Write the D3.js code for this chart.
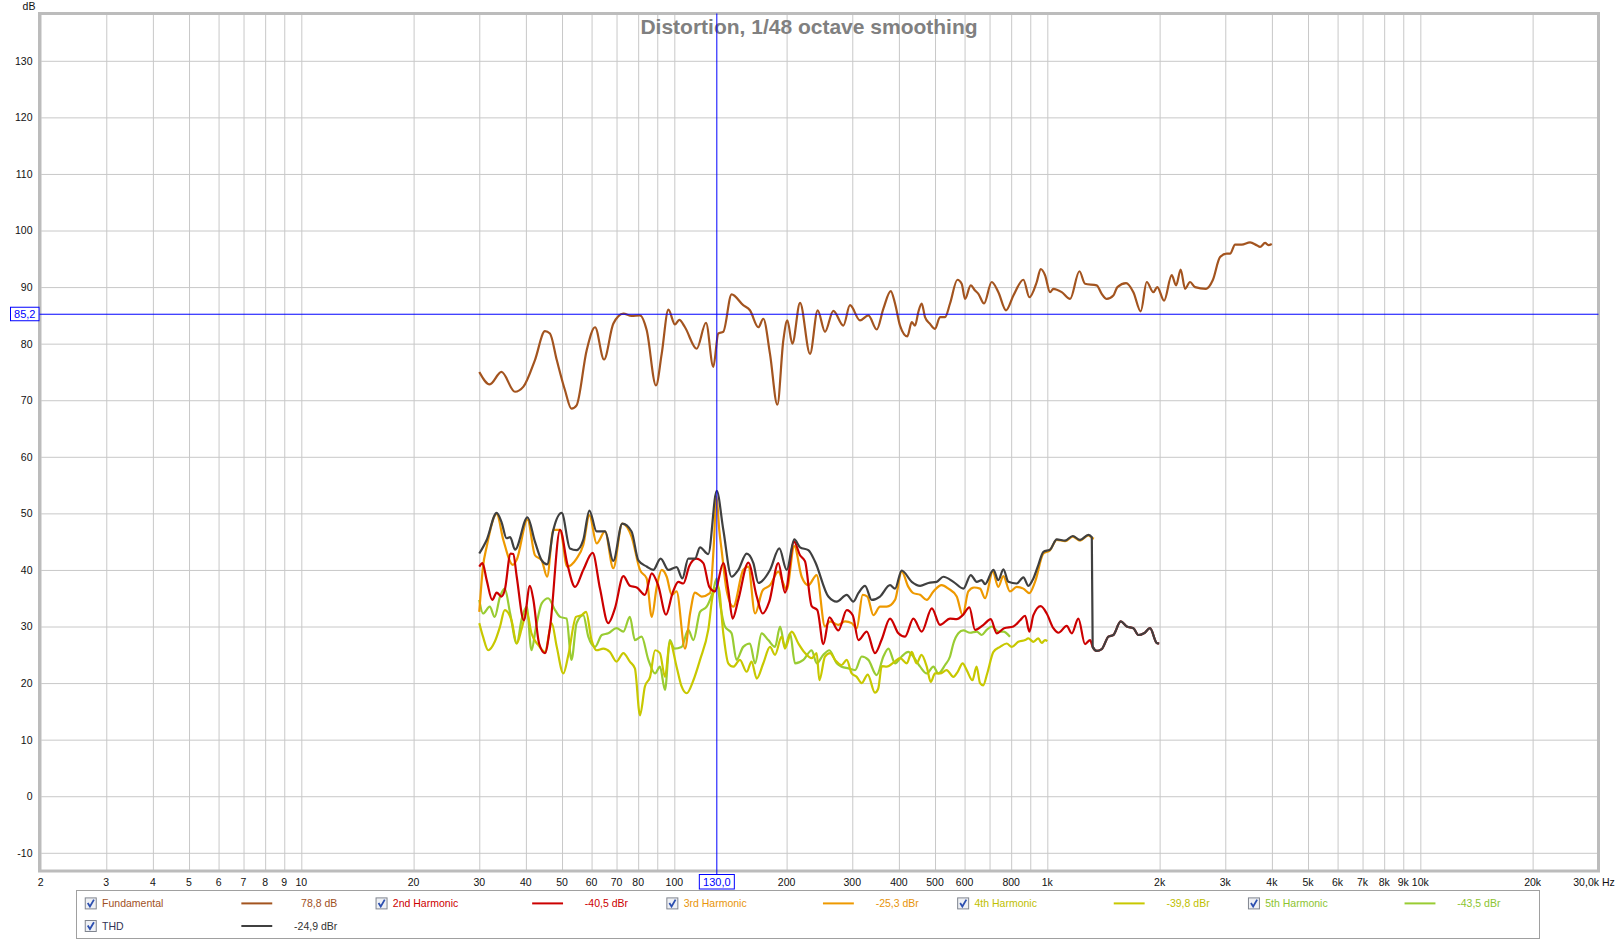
<!DOCTYPE html>
<html><head><meta charset="utf-8">
<script src="https://cdn.jsdelivr.net/npm/d3@7"></script>
<style>body{margin:0;background:#fff;} svg{display:block;font-family:"Liberation Sans",Arial,sans-serif;}</style>
</head><body><svg id="c" width="1617" height="941"></svg>
<script>
// ---------- DATA ([Hz, dB]) ----------
const fundamental = [[30,75.0],[32.0,72.8],[34.4,75.0],[37.4,71.5],[39.4,72.4],[42.3,77.1],[45.0,82.2],[46.4,81.8],[48.4,77.1],[50.9,71.8],[53.0,68.5],[54.7,69.1],[58.2,78.8],[61.3,82.9],[64.8,77.2],[68.6,83.5],[73.0,85.3],[76.8,84.9],[80.9,85.0],[84.3,82.4],[89.3,72.6],[92.5,78.2],[96.4,86.0],[100.4,83.4],[103.1,84.2],[106.8,82.9],[114.8,79.1],[121.6,83.7],[127.2,75.9],[131.2,81.8],[135.3,82.1],[142.4,88.7],[153.0,86.8],[159.5,85.9],[168.0,82.9],[173.2,84.4],[180.5,78.2],[188.9,69.2],[196.0,80.6],[200.9,84.1],[207.2,80.0],[217.3,87.2],[231.1,78.2],[242.3,85.9],[253.5,82.1],[266.9,85.8],[283.9,83.2],[295.8,86.8],[314.7,84.1],[331.3,85.0],[348.8,82.5],[363.5,86.2],[380.4,89.3],[390.6,87.1],[402.8,83.2],[421.4,81.3],[433,83.8],[442,83.2],[451,85.6],[460.5,87.1],[470,84.7],[484.7,83.5],[500,82.6],[515.6,84.7],[531.8,84.7],[548.5,87.1],[574,91.3],[589.4,90.6],[601.7,87.9],[623.2,90.3],[640.1,89.4],[653.4,88.8],[676.6,87.1],[709.4,90.9],[739.2,89.1],[775,85.9],[811,88.5],[862.7,91.3],[895.3,88.2],[936.8,90.9],[960.1,93.2],[986.1,92.1],[1017,89.1],[1038,89.7],[1093,89.1],[1151,87.9],[1219,92.8],[1262,90.6],[1356,90.3],[1399,88.8],[1443,87.9],[1503,88.5],[1541,90.0],[1626,90.7],[1701,89.1],[1780,85.7],[1847,90.9],[1924,89.1],[1972,90.0],[2056,87.6],[2155,92.1],[2214,90.3],[2278,93.1],[2340,89.7],[2413,90.9],[2489,90.0],[2664,89.7],[2776,91.2],[2905,95.3],[3027,95.9],[3090,95.9],[3187,97.5],[3320,97.5],[3496,97.9],[3642,97.4],[3718,97.1],[3835,97.8],[3915,97.4],[3997,97.6]];

const harmonic2 = [[30,40.6],[30.6,41.2],[31.4,38.2],[32.5,34.7],[33.4,36.0],[34.4,35.3],[35.1,36.4],[36.4,42.9],[37.0,42.8],[37.8,38.8],[39.5,31.1],[41.0,37.2],[41.9,34.7],[43.4,27.0],[45.0,25.3],[46.4,29.7],[49.4,47.1],[51.6,41.2],[54.2,37.0],[57.0,40.0],[60.4,43.0],[63.2,36.7],[66.5,30.6],[69.3,33.2],[73.0,38.9],[76.0,37.2],[79.3,36.9],[83.4,35.6],[87.0,39.4],[90.6,37.2],[95.0,32.1],[98.9,35.9],[102.5,37.9],[105.7,37.6],[109.7,40.7],[114.3,42.0],[119.6,41.2],[124.1,37.0],[128.5,36.2],[135.3,41.2],[139.5,36.5],[143.3,31.4],[148.4,34.7],[157.9,41.3],[166.3,35.3],[172.5,32.3],[179.7,34.4],[190.0,41.2],[198.1,36.0],[209.4,45.0],[217.3,42.6],[224.1,41.5],[233.5,33.6],[241.8,32.9],[250.9,26.9],[260.4,31.6],[275.4,29.3],[289.9,32.9],[300.8,32.0],[311.5,27.6],[328,29.1],[345.1,25.3],[359.7,27.7],[378.7,31.4],[398.7,28.8],[415.4,28.2],[437.4,31.4],[460.5,29.1],[490.1,33.2],[515.6,30.3],[548.5,31.4],[571.6,31.3],[593.2,32.0],[618.1,33.4],[640.1,29.4],[674.1,30.3],[705.2,31.3],[731.7,28.8],[765.6,29.7],[811,30.0],[845.2,31.1],[871.8,31.9],[895.3,29.1],[917.6,32.0],[960.1,33.6],[996.2,32.3],[1038,29.7],[1071,28.9],[1127,30.1],[1163,28.8],[1211,31.4],[1262,26.9],[1302,27.6],[1323,26.4],[1357,25.7],[1399,26.0],[1458,28.2],[1503,28.5],[1573,30.9],[1633,30.0],[1701,29.7],[1754,28.5],[1816,28.8],[1885,29.7],[1965,27.1],[1995,27.0]];

const harmonic3 = [[30,32.6],[30.7,40.6],[31.4,44.1],[33.4,49.9],[34.8,45.3],[36.9,40.9],[37.8,41.8],[40.4,48.9],[42.3,42.6],[44.1,41.7],[45.6,38.8],[47.4,47.1],[49.4,47.1],[51.6,40.6],[54.7,42.0],[57.0,44.4],[59.2,49.7],[61.9,44.7],[65.2,46.8],[68.6,40.3],[72.5,48.2],[76.8,45.9],[80.9,40.0],[84.3,38.5],[87.0,31.7],[89.7,37.0],[92.5,40.0],[95.4,38.8],[98.4,35.6],[101.4,36.2],[106.8,26.1],[110.2,32.3],[113.6,36.0],[118.4,35.3],[124.6,35.9],[127.5,44.0],[129.7,53.0],[132,47.0],[133.9,43.5],[138.1,36.4],[143.9,33.5],[153.0,40.0],[157.9,40.6],[164.6,32.3],[172.5,36.4],[180.5,37.3],[190.0,39.7],[196.0,37.6],[200,36.5],[209.7,44.2],[219.5,38.8],[228.7,37.3],[240.7,39.1],[253.5,30.0],[261.5,30.9],[275.4,30.3],[286.9,30.9],[298.9,30.6],[308.3,29.7],[319.9,35.6],[329.3,35.3],[341.7,32.0],[356,33.5],[371,33.5],[390.6,34.7],[407,39.7],[424.1,37.0],[437.4,35.9],[456,35.6],[475,34.7],[495,36.2],[521,37.3],[543,36.7],[571.6,35.3],[593.2,32.0],[614,36.2],[636,36.9],[660,36.7],[680.8,35.0],[714,39.7],[739,37.0],[762,38.9],[794,36.2],[827.7,37.0],[862.7,36.7],[895,35.9],[927,37.9],[976,42.9],[1017,43.5],[1060,45.3],[1116,45.1],[1170,45.9],[1224,45.2],[1289,46.1],[1316,45.7],[1333,45.5]];

const harmonic4 = [[30,30.6],[30.7,28.2],[31.7,25.8],[33.0,27.3],[34.1,30.0],[35.1,32.9],[36.6,31.1],[37.8,27.0],[39.0,29.7],[40.2,32.6],[41.4,28.8],[43.2,26.7],[45.0,25.5],[46.9,30.6],[48.4,26.4],[50.4,21.7],[52.0,25.0],[54.5,31.7],[56.4,32.0],[58.0,32.6],[60.0,27.6],[61.9,25.8],[64.5,26.1],[67.2,25.5],[70.0,23.8],[73.0,25.3],[76.0,23.8],[78.4,22.6],[80.9,14.3],[83.4,19.4],[86.1,21.1],[88.8,25.8],[91.5,25.3],[94.4,21.1],[97.3,27.3],[101.4,22.9],[104.6,19.4],[107.9,18.2],[112.5,20.5],[117.2,24.1],[123.3,29.4],[127.2,35.9],[131.2,37.0],[135.3,28.8],[139.5,23.5],[143.9,22.9],[149.9,24.1],[156.3,22.0],[161.1,23.8],[166.3,20.8],[173.2,23.5],[180.5,26.4],[186.2,25.0],[194.0,28.2],[198,26.1],[206.4,29.1],[215.1,27.0],[224.1,25.3],[233.5,24.4],[240.8,25.3],[244.8,20.5],[253.5,24.7],[261.5,25.3],[269.7,24.1],[281,23.2],[289.9,24.1],[298.9,21.7],[308.3,21.1],[318,20.0],[330,21.5],[345,18.3],[352,19.0],[360,23.0],[371,22.9],[390,23.8],[403,24.4],[420,23.5],[433,25.5],[446,23.5],[460,25.0],[475,22.9],[487,20.2],[500,21.7],[516,21.7],[537,22.3],[560,21.1],[575,22.0],[593,23.5],[608,22.3],[630,20.5],[646,22.9],[660,20.0],[673,19.6],[690,21.7],[717,25.5],[747,26.4],[778,27.0],[803,26.4],[836,27.3],[872,27.6],[889,27.9],[918,27.3],[946,27.9],[966,27.1],[986,27.6],[1000,27.4]];

const harmonic5 = [[30,34.7],[30.7,32.3],[32.0,33.5],[33.0,31.7],[34.1,35.3],[35.1,36.7],[36.3,32.3],[37.8,27.0],[39.0,31.4],[40.2,33.5],[41.4,25.8],[42.6,30.0],[44.1,34.1],[45.9,35.0],[47.9,32.9],[49.4,31.7],[51.4,31.4],[53.0,24.1],[54.7,30.6],[57.0,32.0],[58.8,28.2],[61.3,26.4],[63.9,28.5],[66.5,28.8],[70.0,29.7],[73.0,29.1],[76.0,31.7],[78.4,27.6],[81.7,28.2],[85.2,24.1],[88.8,21.7],[91.5,22.9],[94.4,18.8],[97.3,27.6],[100,26.1],[104.6,26.4],[109.0,29.4],[112.5,27.6],[117.2,32.6],[122.1,33.5],[127.2,36.4],[129.9,38.5],[132.6,34.1],[136.7,30.0],[142.4,28.8],[146.8,24.1],[153.0,26.4],[159.5,27.0],[164.6,23.5],[171.4,28.8],[178.6,27.6],[186.2,26.4],[192.1,30.0],[198,26.4],[204.3,28.8],[210.7,23.5],[221.8,24.1],[233.5,25.8],[240.8,23.5],[250.9,25.0],[260.4,25.8],[272.5,23.5],[281,22.9],[292.9,22.6],[305.2,22.3],[318,24.7],[331.3,24.1],[348.8,21.4],[363.5,24.7],[375,26.1],[390.6,23.5],[407,24.7],[424,25.5],[437,24.7],[456,22.9],[475,21.7],[495,22.9],[510,21.7],[532,23.2],[548.5,24.7],[560,27.0],[577.5,28.8],[595.6,29.3],[620.6,28.9],[646.7,29.1],[667,28.5],[687.7,29.4],[709.6,30.0],[739,29.1],[762,29.1],[794,28.2]];

const thd = [[30,42.9],[31.4,45.3],[33.4,50.1],[34.4,48.5],[35.5,45.6],[36.3,45.8],[37.4,43.6],[40.4,49.3],[42.3,45.0],[44.1,41.7],[45.6,41.0],[47.4,47.1],[49.9,50.1],[52.5,43.8],[54.7,43.5],[57.0,45.3],[59.2,50.5],[61.9,46.8],[65.2,46.8],[68.6,41.6],[72.5,48.2],[76.8,46.8],[80.1,41.7],[84.3,40.6],[87.8,40.0],[91.9,42.0],[96.4,40.0],[101.4,40.5],[105.1,38.5],[109.0,42.0],[113.6,42.0],[117.2,44.0],[123.3,42.8],[129.9,54.0],[135.3,47.1],[142.4,38.8],[148.4,40.0],[156.3,42.9],[162.9,41.2],[168.0,37.7],[180.5,40.0],[191.2,43.8],[200.1,40.0],[209.7,45.4],[217.3,44.0],[228.7,43.5],[238.3,41.5],[258.8,35.3],[272.5,34.4],[289.9,35.6],[302,34.4],[311.5,35.9],[324.6,37.2],[338.2,34.7],[356,35.3],[378.7,37.3],[390.6,36.7],[407,39.9],[433,37.9],[456,37.2],[479.9,37.7],[505.2,37.9],[526.4,38.8],[560.1,37.9],[595.6,36.7],[623.2,39.1],[646.7,37.9],[667,38.2],[680.8,37.5],[716.8,40.0],[739.2,38.2],[762.4,40.1],[786.3,37.9],[827.7,37.6],[862.7,38.7],[889.7,37.2],[917.6,38.5],[946.3,40.9],[975.9,43.2],[1017,43.6],[1060,45.4],[1116,45.2],[1170,46.0],[1224,45.3],[1289,46.2],[1316,45.8],[1323,26.4],[1357,25.7],[1399,26.0],[1458,28.2],[1503,28.5],[1573,30.9],[1633,30.0],[1701,29.7],[1754,28.5],[1816,28.8],[1885,29.7],[1965,27.1],[1995,27.0]];

const xLabelValues = [2,3,4,5,6,7,8,9,10,20,30,40,50,60,70,80,100,200,300,400,500,600,800,1000,2000,3000,4000,5000,6000,7000,8000,9000,10000,20000];
const xLabelTexts  = ["2","3","4","5","6","7","8","9","10","20","30","40","50","60","70","80","100","200","300","400","500","600","800","1k","2k","3k","4k","5k","6k","7k","8k","9k","10k","20k"];
const yTickValues = [-10,0,10,20,30,40,50,60,70,80,90,100,110,120,130];

const legendNames  = ["Fundamental","2nd Harmonic","3rd Harmonic","4th Harmonic","5th Harmonic","THD"];
const legendValues = ["78,8 dB","-40,5 dBr","-25,3 dBr","-39,8 dBr","-43,5 dBr","-24,9 dBr"];
const cursorFreq = 130.0, cursorLevel = 85.2;

// ---------- STYLE ----------
const seriesColors = ["#a3541f","#cc0000","#ee9900","#c8c800","#99cc33","#404040"];
const textColors   = ["#a0501e","#cc0000","#e8940a","#c0c000","#8cc430","#333355"];
const seriesData = [fundamental,harmonic2,harmonic3,harmonic4,harmonic5,thd];
const drawOrder = [4,3,2,1,5,0];

const svg = d3.select("#c");
const plot = {left:39.5,right:1598.5,top:13.5,bottom:871};
const x = d3.scaleLog().domain([2,30000]).range([40.6,1598.3]);
const y = d3.scaleLinear().domain([-10,130]).range([852.8,60.8]);
const FONT = 10.5;

svg.append("rect").attr("width",1617).attr("height",941).attr("fill","#fff");

svg.append("clipPath").attr("id","clip").append("rect")
  .attr("x",plot.left).attr("y",plot.top).attr("width",plot.right-plot.left).attr("height",plot.bottom-plot.top);

// grid
const gx = svg.append("g").attr("transform",`translate(0,${plot.bottom})`)
  .call(d3.axisBottom(x).tickValues(x.ticks()).tickSize(-(plot.bottom-plot.top)).tickFormat(""));
gx.select(".domain").remove();
gx.selectAll("line").attr("stroke","#c8c8c8").attr("stroke-width",1);

const gy = svg.append("g").attr("transform",`translate(${plot.left},0)`)
  .call(d3.axisLeft(y).tickValues(yTickValues).tickSize(-(plot.right-plot.left)).tickFormat(""));
gy.select(".domain").remove();
gy.selectAll("line").attr("stroke","#c8c8c8").attr("stroke-width",1);

// frame
svg.append("rect").attr("x",plot.left).attr("y",plot.top).attr("width",plot.right-plot.left).attr("height",plot.bottom-plot.top)
  .attr("fill","none").attr("stroke","#bcbcbc").attr("stroke-width",3);

// axis labels
const labelBaseline = 885.5;
const ax = svg.append("g");
ax.selectAll("text").data(xLabelValues).join("text")
  .attr("x",d=>x(d)).attr("y",labelBaseline).attr("text-anchor","middle")
  .attr("font-size",FONT).attr("fill","#111").text((d,i)=>xLabelTexts[i]);
svg.append("text").attr("x",1594).attr("y",labelBaseline).attr("text-anchor","middle")
  .attr("font-size",FONT).attr("fill","#111").text("30,0k Hz");

const ay = svg.append("g").attr("transform",`translate(${plot.left-4},0)`)
  .call(d3.axisLeft(y).tickValues(yTickValues).tickSize(0).tickFormat(d=>String(d)));
ay.select(".domain").remove();
ay.selectAll("text").attr("font-size",FONT).attr("fill","#111").attr("font-family","Liberation Sans, Arial, sans-serif");
svg.append("text").attr("x",29).attr("y",10).attr("text-anchor","middle").attr("font-size",FONT).attr("fill","#111").text("dB");

// title
svg.append("text").attr("x",809).attr("y",34).attr("text-anchor","middle")
  .attr("font-size",21).attr("font-weight","bold").attr("fill","#808080").text("Distortion, 1/48 octave smoothing");

// series
const line = d3.line().x(d=>x(d[0])).y(d=>y(d[1])).curve(d3.curveMonotoneX);
const gl = svg.append("g").attr("clip-path","url(#clip)");
drawOrder.forEach(i=>{
  gl.append("path").datum(seriesData[i]).attr("d",line).attr("fill","none")
    .attr("stroke",seriesColors[i]).attr("stroke-width",2.2).attr("stroke-linejoin","round");
});

// cursor
const cx = x(cursorFreq);
svg.append("line").attr("x1",cx).attr("x2",cx).attr("y1",plot.top).attr("y2",plot.bottom+4)
  .attr("stroke","#0000ff").attr("stroke-width",1);
svg.append("line").attr("x1",plot.left).attr("x2",plot.right).attr("y1",y(cursorLevel)).attr("y2",y(cursorLevel))
  .attr("stroke","#0000ff").attr("stroke-width",1);
svg.append("rect").attr("x",cx-17.5).attr("y",874.5).attr("width",35).attr("height",14.5)
  .attr("fill","#fff").attr("stroke","#0000ff").attr("stroke-width",1);
svg.append("text").attr("x",cx).attr("y",labelBaseline).attr("text-anchor","middle").attr("font-size",FONT+0.5)
  .attr("fill","#0000ff").text(d3.format(".1f")(cursorFreq).replace(".",","));
const cy = y(cursorLevel);
svg.append("rect").attr("x",10.5).attr("y",cy-7).attr("width",28.5).attr("height",13.5)
  .attr("fill","#fff").attr("stroke","#0000ff").attr("stroke-width",1);
svg.append("text").attr("x",24.8).attr("y",cy+4).attr("text-anchor","middle").attr("font-size",FONT+0.5)
  .attr("fill","#0000ff").text(d3.format(".1f")(cursorLevel).replace(".",","));

// legend
svg.append("rect").attr("x",76.5).attr("y",890.5).attr("width",1463).attr("height",48)
  .attr("fill","#fff").attr("stroke","#a0a0a0").attr("stroke-width",1);
legendNames.forEach((name,i)=>{
  const col = i<5 ? i : 0, row = i<5 ? 0 : 1;
  const lx = 90.75 + col*290.8, ly = 903.4 + row*22.6;
  const g = svg.append("g").attr("transform",`translate(${lx},${ly})`);
  g.append("rect").attr("x",-5.5).attr("y",-5.5).attr("width",11).attr("height",11)
    .attr("fill","#eef0f4").attr("stroke","#80858f").attr("stroke-width",1);
  g.append("path").attr("d","M-3,-0.5 L-0.8,3 L3.2,-3.8").attr("fill","none").attr("stroke","#2c4fb0").attr("stroke-width",1.8);
  g.append("text").attr("x",11.3).attr("y",3.8).attr("font-size",FONT).attr("fill",textColors[i]).text(name);
  g.append("line").attr("x1",150.6).attr("x2",181.5).attr("y1",0).attr("y2",0).attr("stroke",seriesColors[i]).attr("stroke-width",2);
  g.append("text").attr("x",246.5).attr("y",3.8).attr("text-anchor","end").attr("font-size",FONT).attr("fill",i===5?"#333":textColors[i]).text(legendValues[i]);
});
</script></body></html>
